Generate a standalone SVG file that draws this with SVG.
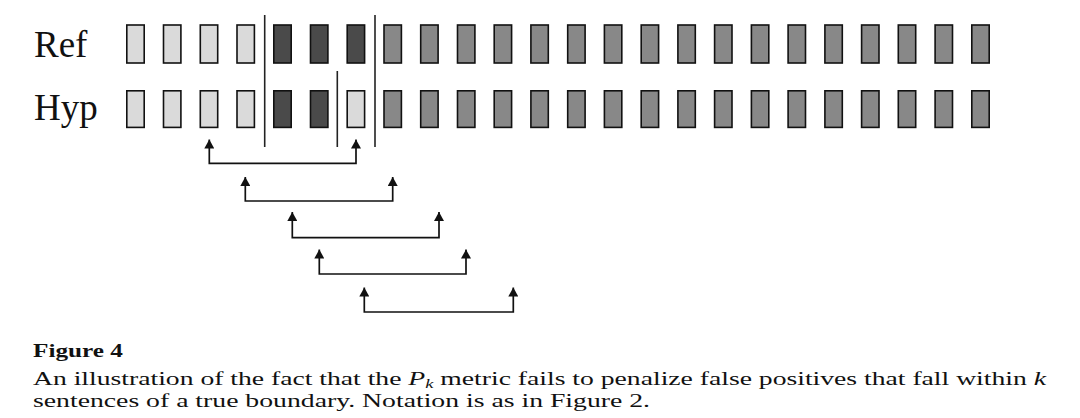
<svg xmlns="http://www.w3.org/2000/svg" width="1080" height="418" viewBox="0 0 1080 418">
<style>
.b{stroke:#111;stroke-width:1.6}
.l{fill:#dadada}.d{fill:#4a4a4a}.g{fill:#888}
.v{stroke:#222;stroke-width:1.6}
.c{fill:none;stroke:#111;stroke-width:1.7;marker-start:url(#ah);marker-end:url(#ah)}
.lab{font-family:"Liberation Serif",serif;font-size:37px;fill:#111}
.cap{font-family:"Liberation Serif",serif;font-size:18px;fill:#111}
</style>
<defs>
<marker id="ah" viewBox="0 0 10 10" refX="10" refY="5" markerWidth="9" markerHeight="10" preserveAspectRatio="none" markerUnits="userSpaceOnUse" orient="auto-start-reverse">
<path d="M0,0 L10,5 L0,10 z" fill="#111"/>
</marker>
</defs>
<g id="labels">
<text class="lab" x="34" y="57">Ref</text>
<text class="lab" x="34" y="120">Hyp</text>
</g>
<g id="ref-row">
<rect class="b l" x="126.8" y="25" width="17.4" height="38"/>
<rect class="b l" x="163.5" y="25" width="17.4" height="38"/>
<rect class="b l" x="200.3" y="25" width="17.4" height="38"/>
<rect class="b l" x="237" y="25" width="17.4" height="38"/>
<rect class="b d" x="273.8" y="25" width="17.4" height="38"/>
<rect class="b d" x="310.5" y="25" width="17.4" height="38"/>
<rect class="b d" x="347.2" y="25" width="17.4" height="38"/>
<rect class="b g" x="384" y="25" width="17.4" height="38"/>
<rect class="b g" x="420.7" y="25" width="17.4" height="38"/>
<rect class="b g" x="457.5" y="25" width="17.4" height="38"/>
<rect class="b g" x="494.2" y="25" width="17.4" height="38"/>
<rect class="b g" x="530.9" y="25" width="17.4" height="38"/>
<rect class="b g" x="567.7" y="25" width="17.4" height="38"/>
<rect class="b g" x="604.4" y="25" width="17.4" height="38"/>
<rect class="b g" x="641.2" y="25" width="17.4" height="38"/>
<rect class="b g" x="677.9" y="25" width="17.4" height="38"/>
<rect class="b g" x="714.6" y="25" width="17.4" height="38"/>
<rect class="b g" x="751.4" y="25" width="17.4" height="38"/>
<rect class="b g" x="788.1" y="25" width="17.4" height="38"/>
<rect class="b g" x="824.9" y="25" width="17.4" height="38"/>
<rect class="b g" x="861.6" y="25" width="17.4" height="38"/>
<rect class="b g" x="898.3" y="25" width="17.4" height="38"/>
<rect class="b g" x="935.1" y="25" width="17.4" height="38"/>
<rect class="b g" x="971.8" y="25" width="17.4" height="38"/>
</g>
<g id="hyp-row">
<rect class="b l" x="126.8" y="90.8" width="17.4" height="36.6"/>
<rect class="b l" x="163.5" y="90.8" width="17.4" height="36.6"/>
<rect class="b l" x="200.3" y="90.8" width="17.4" height="36.6"/>
<rect class="b l" x="237" y="90.8" width="17.4" height="36.6"/>
<rect class="b d" x="273.8" y="90.8" width="17.4" height="36.6"/>
<rect class="b d" x="310.5" y="90.8" width="17.4" height="36.6"/>
<rect class="b l" x="347.2" y="90.8" width="17.4" height="36.6"/>
<rect class="b g" x="384" y="90.8" width="17.4" height="36.6"/>
<rect class="b g" x="420.7" y="90.8" width="17.4" height="36.6"/>
<rect class="b g" x="457.5" y="90.8" width="17.4" height="36.6"/>
<rect class="b g" x="494.2" y="90.8" width="17.4" height="36.6"/>
<rect class="b g" x="530.9" y="90.8" width="17.4" height="36.6"/>
<rect class="b g" x="567.7" y="90.8" width="17.4" height="36.6"/>
<rect class="b g" x="604.4" y="90.8" width="17.4" height="36.6"/>
<rect class="b g" x="641.2" y="90.8" width="17.4" height="36.6"/>
<rect class="b g" x="677.9" y="90.8" width="17.4" height="36.6"/>
<rect class="b g" x="714.6" y="90.8" width="17.4" height="36.6"/>
<rect class="b g" x="751.4" y="90.8" width="17.4" height="36.6"/>
<rect class="b g" x="788.1" y="90.8" width="17.4" height="36.6"/>
<rect class="b g" x="824.9" y="90.8" width="17.4" height="36.6"/>
<rect class="b g" x="861.6" y="90.8" width="17.4" height="36.6"/>
<rect class="b g" x="898.3" y="90.8" width="17.4" height="36.6"/>
<rect class="b g" x="935.1" y="90.8" width="17.4" height="36.6"/>
<rect class="b g" x="971.8" y="90.8" width="17.4" height="36.6"/>
</g>
<g id="boundaries">
<line class="v" x1="264.7" y1="15" x2="264.7" y2="147"/>
<line class="v" x1="375" y1="15" x2="375" y2="147"/>
<line class="v" x1="337.3" y1="71" x2="337.3" y2="147"/>
</g>
<g id="connectors">
<path class="c" d="M209.3,139.5 V163.3 H356 V139.5"/>
<path class="c" d="M245.3,177 V201 H392.7 V177"/>
<path class="c" d="M292.3,212 V237.7 H439 V212"/>
<path class="c" d="M319.3,249.5 V274 H466 V249.5"/>
<path class="c" d="M364.3,287.5 V312 H513.3 V287.5"/>
</g>
<g id="caption">
<text class="cap" x="33" y="357" font-weight="bold" font-size="19" textLength="90" lengthAdjust="spacingAndGlyphs">Figure 4</text>
<text class="cap" x="33" y="385" textLength="1013" lengthAdjust="spacingAndGlyphs">An illustration of the fact that the <tspan font-style="italic">P</tspan><tspan font-style="italic" font-size="12" dy="3">k</tspan><tspan dy="-3"> metric fails to penalize false positives that fall within </tspan><tspan font-style="italic">k</tspan></text>
<text class="cap" x="33" y="407" textLength="617" lengthAdjust="spacingAndGlyphs">sentences of a true boundary. Notation is as in Figure 2.</text>
</g>
</svg>
